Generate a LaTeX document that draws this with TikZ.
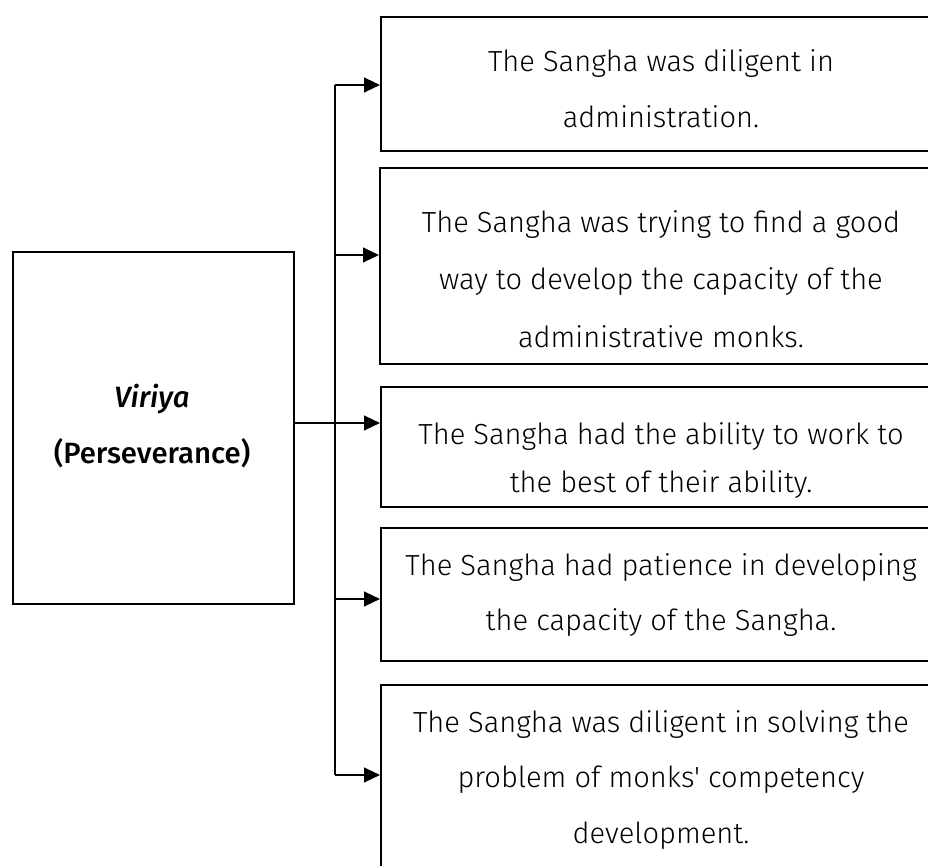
\documentclass[tikz,border=0pt]{standalone}
\usepackage{fontspec}
\setmainfont{Fira Sans Light}[Ligatures=TeXOff, BoldFont={Fira Sans Medium}, ItalicFont={Fira Sans Light Italic}, BoldItalicFont={Fira Sans Medium Italic}]
\usetikzlibrary{arrows.meta}

\begin{document}
\begin{tikzpicture}[x=0.75pt, y=-0.75pt,
  box/.style={draw, line width=1.6pt, rectangle, anchor=north west, inner sep=0pt},
  bus/.style={line width=0.8pt},
  link/.style={line width=1.6pt, -{Triangle[length=12pt, width=11pt]}},
  txt/.style={anchor=base, inner sep=0pt, font=\fontsize{21.8pt}{26pt}\selectfont},
  head/.style={anchor=base, inner sep=0pt, font=\fontsize{22pt}{26pt}\selectfont\bfseries}]

  % page frame (boxes on the right run past the edge)
  \useasboundingbox (0,0) rectangle (928,866);
  \clip (0,0) rectangle (928,866);

  % source box
  \node[box, minimum width=210.75pt, minimum height=264pt] (src) at (12,251) {};
  \node[head] (srcA) at (152,407) {\itshape Viriya};
  \node[head] (srcB) at (152,463) {(Perseverance)};

  % outcome boxes
  \node[box, minimum width=423pt, minimum height=100.5pt] (b1) at (380,16) {};
  \node[box, minimum width=423pt, minimum height=147pt]   (b2) at (379,167) {};
  \node[box, minimum width=423pt, minimum height=90pt]    (b3) at (380,386) {};
  \node[box, minimum width=423pt, minimum height=99.75pt] (b4) at (380,527) {};
  \node[box, minimum width=423pt, minimum height=150pt]   (b5) at (380,684) {};

  \node[txt] (t1a) at (661,72)  {The Sangha was diligent in};
  \node[txt] (t1b) at (661,128) {administration.};

  \node[txt] (t2a) at (661,233) {The Sangha was trying to find a good};
  \node[txt] (t2b) at (661,290) {way to develop the capacity of the};
  \node[txt] (t2c) at (661,347) {administrative monks.};

  \node[txt] (t3a) at (661,444) {The Sangha had the ability to work to};
  \node[txt] (t3b) at (661,492) {the best of their ability.};

  \node[txt] (t4a) at (661,575) {The Sangha had patience in developing};
  \node[txt] (t4b) at (661,630) {the capacity of the Sangha.};

  \node[txt] (t5a) at (661,732) {The Sangha was diligent in solving the};
  \node[txt] (t5b) at (661,787) {problem of monks' competency};
  \node[txt] (t5c) at (661,843) {development.};

  % branching bus
  \coordinate (j1) at (335,85);
  \coordinate (j2) at (335,255);
  \coordinate (j4) at (335,599);
  \coordinate (j5) at (335,775);
  \draw[bus] (j1) -- (j5);

  \draw[link] (j1) -- (j1 -| b1.west);
  \draw[link] (j2) -- (j2 -| b2.west);
  \draw[link] (src.east |- 0,423) -- (b3.west |- 0,423);
  \draw[link] (j4) -- (j4 -| b4.west);
  \draw[link] (j5) -- (j5 -| b5.west);
\end{tikzpicture}
\end{document}
